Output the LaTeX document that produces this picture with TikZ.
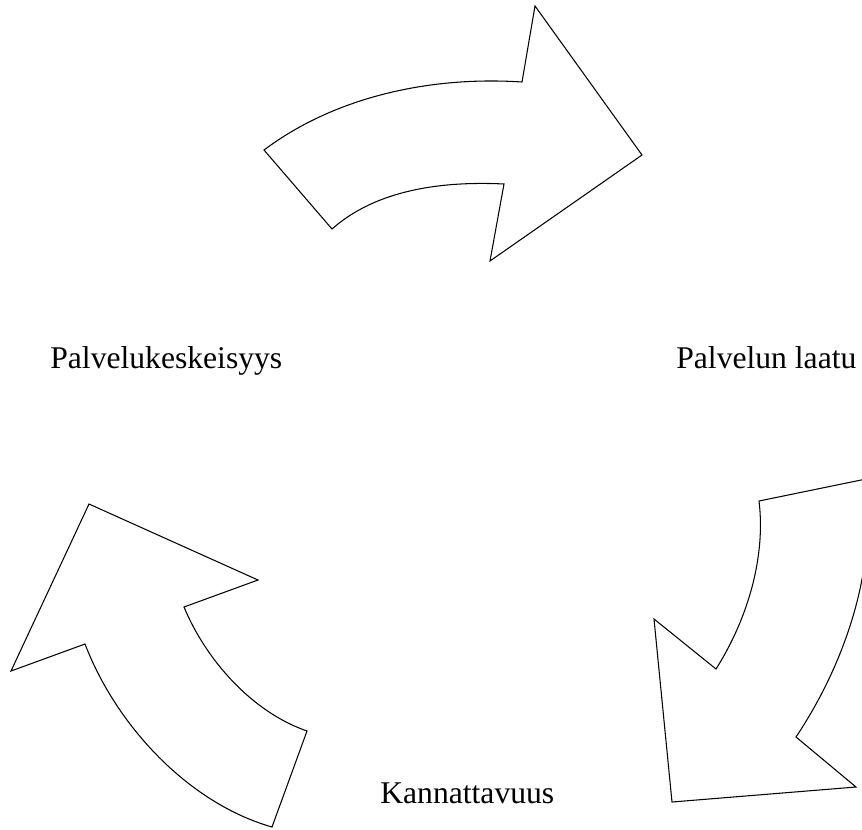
\documentclass[tikz,border=0pt]{standalone}
\usepackage{fontspec}
\setmainfont{Liberation Serif}
\begin{document}
\begin{tikzpicture}[x=0.02cm,y=-0.02cm,
  arrowshape/.style={draw=black,line width=0.6pt,line join=miter,fill=white},
  lbl/.style={anchor=base west,inner sep=0pt,font=\fontsize{18}{21}\selectfont}]
\useasboundingbox (0,0) rectangle (862,829);
\begin{scope}
\clip (0,0) rectangle (862,829);
% top arrow
\draw[arrowshape] (264,150) .. controls (336,96) and (432,76) .. (522,82)
  -- (535,6) -- (642,155) -- (490,261) -- (504,184)
  .. controls (444,181) and (377,189) .. (332,229) -- cycle;
% right arrow
\draw[arrowshape] (759,501) -- (866,479) .. controls (877,568) and (846,662) .. (796,737)
  -- (856,787) -- (672,802) -- (654,619) -- (716,669)
  .. controls (747,620) and (766,558) .. (759,501) -- cycle;
% left arrow
\draw[arrowshape] (89,504) -- (258,580) -- (184,607)
  .. controls (206,660) and (252,712) .. (307,731) -- (272,827)
  .. controls (188,803) and (116,725) .. (85,644) -- (11,671) -- cycle;
\end{scope}
\node[lbl] (pk) at (50,368.3) {Palvelukeskeisyys};
\node[lbl] (pl) at (676,368.3) {Palvelun laatu};
\node[lbl] (ka) at (380,803) {Kannattavuus};
\end{tikzpicture}
\end{document}
